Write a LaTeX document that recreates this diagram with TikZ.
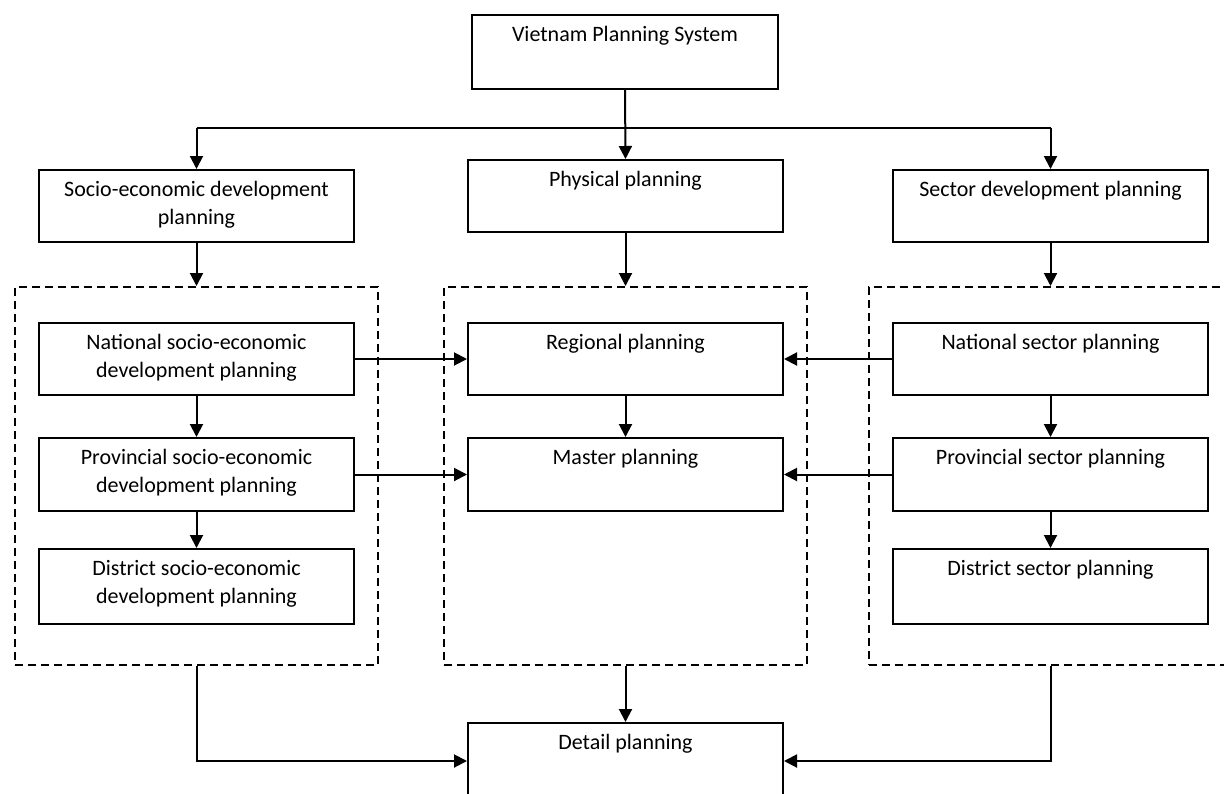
\documentclass[tikz,border=0pt]{standalone}
\usepackage{fontspec}
\setmainfont{Carlito}
\usetikzlibrary{arrows.meta}

\tikzset{
  pbox/.style={draw, line width=2pt, rectangle, inner sep=0pt, anchor=north west},
  groupbox/.style={draw, line width=2pt, dash pattern=on 8pt off 5pt, rectangle, inner sep=0pt, anchor=north west},
  txt/.style={anchor=base, yshift=-27pt, align=center, inner sep=0pt,
    font=\fontsize{22}{28}\selectfont},
  % two-line labels: the base anchor sits on the last line
  txttwo/.style={txt, yshift=-28pt},
  conn/.style={line width=2pt, -{Triangle[length=13pt,width=13pt]}},
  plain/.style={line width=2pt},
}

\begin{document}
\begin{tikzpicture}[x=1pt, y=-1pt]
\useasboundingbox (0,0) rectangle (1224,793);
\clip (0,0) rectangle (1224,793);

% top level
\node[pbox, minimum width=306pt, minimum height=74pt, label={[txt]north:Vietnam Planning System}] (vps) at (471,14) {};

% three branches
\node[pbox, minimum width=315pt, minimum height=72pt, label={[txttwo]north:Socio-economic development\\planning}] (sed) at (38,169) {};
\node[pbox, minimum width=315pt, minimum height=72pt, label={[txt]north:Physical planning}] (phys) at (467,159) {};
\node[pbox, minimum width=315pt, minimum height=72pt, label={[txt]north:Sector development planning}] (sec) at (892,169) {};

% grouping frames
\node[groupbox, minimum width=363pt, minimum height=378pt] (gl) at (14,286) {};
\node[groupbox, minimum width=363pt, minimum height=378pt] (gm) at (443,286) {};
\node[groupbox, minimum width=370pt, minimum height=378pt] (gr) at (868,286) {};

% socio-economic levels
\node[pbox, minimum width=315pt, minimum height=72pt, label={[txttwo]north:National socio-economic\\development planning}] (nse) at (38,322) {};
\node[pbox, minimum width=315pt, minimum height=73pt, label={[txttwo]north:Provincial socio-economic\\development planning}] (pse) at (38,437) {};
\node[pbox, minimum width=315pt, minimum height=75pt, label={[txttwo]north:District socio-economic\\development planning}] (dse) at (38,548) {};

% physical levels
\node[pbox, minimum width=315pt, minimum height=72pt, label={[txt]north:Regional planning}] (reg) at (467,322) {};
\node[pbox, minimum width=315pt, minimum height=73pt, label={[txt]north:Master planning}] (mas) at (467,437) {};

% sector levels
\node[pbox, minimum width=315pt, minimum height=72pt, label={[txt]north:National sector planning}] (nsp) at (892,322) {};
\node[pbox, minimum width=315pt, minimum height=73pt, label={[txt]north:Provincial sector planning}] (psp) at (892,437) {};
\node[pbox, minimum width=315pt, minimum height=75pt, label={[txt]north:District sector planning}] (dsp) at (892,548) {};

% detail planning
\node[pbox, minimum width=315pt, minimum height=100pt, label={[txt]north:Detail planning}] (det) at (467,722) {};

% top distribution
\coordinate (split) at (vps.south |- 0,128);
\draw[conn] (vps.south) -- (phys.north);
\draw[plain] (sed.north |- split) -- (sec.north |- split);
\draw[conn] (sed.north |- split) -- (sed.north);
\draw[conn] (sec.north |- split) -- (sec.north);

% into the frames
\draw[conn] (sed.south) -- (gl.north);
\draw[conn] (phys.south) -- (gm.north);
\draw[conn] (sec.south) -- (gr.north -| sec.south);

% within columns
\draw[conn] (nse.south) -- (pse.north);
\draw[conn] (pse.south) -- (dse.north);
\draw[conn] (reg.south) -- (mas.north);
\draw[conn] (nsp.south) -- (psp.north);
\draw[conn] (psp.south) -- (dsp.north);

% cross links
\draw[conn] (nse.east) -- (reg.west);
\draw[conn] (pse.east) -- (mas.west);
\draw[conn] (nsp.west) -- (reg.east);
\draw[conn] (psp.west) -- (mas.east);

% towards detail planning
\coordinate (dl) at (gl.south |- 0,761);
\coordinate (dr) at (sec.south |- 0,761);
\draw[conn] (gm.south) -- (det.north);
\draw[conn] (gl.south) -- (dl) -- (det.west |- dl);
\draw[conn] (sec.south |- gr.south) -- (dr) -- (det.east |- dr);
\end{tikzpicture}
\end{document}
